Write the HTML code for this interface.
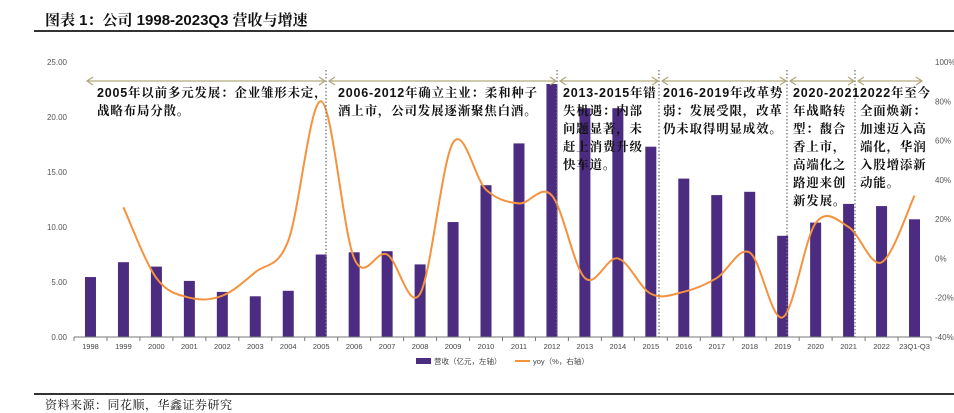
<!DOCTYPE html>
<html><head><meta charset="utf-8">
<style>
body{margin:0;background:#fff;width:954px;height:411px;overflow:hidden;font-family:"Liberation Sans","Noto Sans CJK SC",sans-serif;}
#wrap{position:relative;width:954px;height:411px;}
.title{position:absolute;left:45px;top:9px;font-size:15px;font-weight:bold;color:#111;font-family:"Liberation Sans","Noto Serif CJK SC",serif;}
.rule{position:absolute;left:34px;right:0;height:1.5px;background:#333;}
.src{position:absolute;left:45px;top:396px;font-size:12px;color:#111;letter-spacing:0.5px;font-family:"Liberation Serif","Noto Serif CJK SC",serif;}
</style></head><body>
<div id="wrap">
<div class="title">图表 1：公司 1998-2023Q3 营收与增速</div>
<div class="rule" style="top:30px"></div>
<svg id="chart" width="954" height="411" style="position:absolute;left:0;top:0"></svg>
<div class="rule" style="top:393px"></div>
<div class="src">资料来源：同花顺，华鑫证券研究</div>
</div>
<script>
const categories=["1998","1999","2000","2001","2002","2003","2004","2005","2006","2007","2008","2009","2010","2011","2012","2013","2014","2015","2016","2017","2018","2019","2020","2021","2022","23Q1-Q3"];
const revenue=[5.45,6.8,6.4,5.1,4.1,3.7,4.2,7.5,7.7,7.8,6.6,10.45,13.8,17.6,23.0,20.8,20.8,17.3,14.4,12.9,13.2,9.2,10.4,12.1,11.9,10.7];
const yoy=[null,26,-10,-20,-19,-7,9,80,0,2,-18,59,35,28,32,-10,0,-18,-17,-10,3,-30,18,16,-2,32];
const leftTicks=["0.00","5.00","10.00","15.00","20.00","25.00"];
const rightTicks=["-40%","-20%","0%","20%","40%","60%","80%","100%"];
const NS="http://www.w3.org/2000/svg";
const svg=document.getElementById('chart');
const X0=74,X1=931,Y0=337,Y1=62;
const step=(X1-X0)/categories.length;
const xc=i=>X0+step*(i+0.5);
const yL=v=>Y0-(v/25)*(Y0-Y1);
const yR=v=>Y0-((v+40)/140)*(Y0-Y1);
function el(t,a){const e=document.createElementNS(NS,t);for(const k in a)e.setAttribute(k,a[k]);svg.appendChild(e);return e;}
leftTicks.forEach((t,i)=>{const e=el('text',{x:67,y:yL(parseFloat(t))+3,'text-anchor':'end','font-size':'8','fill':'#555'});e.textContent=t;

});
rightTicks.forEach(t=>{const e=el('text',{x:935,y:yR(parseFloat(t))+3,'font-size':'8','fill':'#555'});e.textContent=t;

});
revenue.forEach((v,i)=>{const r=el('rect',{x:xc(i)-5.5,y:yL(v),width:11,height:Y0-yL(v),fill:'#4b2c80'});

});
const ax=el('line',{x1:X0,y1:Y0,x2:X1,y2:Y0,stroke:'#777','stroke-width':1});


for(let i=0;i<=categories.length;i++){el('line',{x1:X0+step*i,y1:Y0,x2:X0+step*i,y2:Y0+4,stroke:'#777'});}
categories.forEach((c,i)=>{const e=el('text',{x:xc(i),y:349,'text-anchor':'middle','font-size':'7.5','fill':'#444'});e.textContent=c;

});
const pts=[];yoy.forEach((v,i)=>{if(v!==null)pts.push([xc(i),yR(v)]);});
let d='M'+pts[0][0]+','+pts[0][1];
for(let i=0;i<pts.length-1;i++){const p0=pts[Math.max(0,i-1)],p1=pts[i],p2=pts[i+1],p3=pts[Math.min(pts.length-1,i+2)];
const c1=[p1[0]+(p2[0]-p0[0])/6,p1[1]+(p2[1]-p0[1])/6],c2=[p2[0]-(p3[0]-p1[0])/6,p2[1]-(p3[1]-p1[1])/6];
d+=' C'+c1+' '+c2+' '+p2;}
const ln=el('path',{d:d,fill:'none',stroke:'#f5923e','stroke-width':2});


const seps=[326,557,659,787,855];
seps.forEach(x=>{const s=el('line',{x1:x,y1:70,x2:x,y2:Y0,stroke:'#777','stroke-width':1.3,'stroke-dasharray':'1.5,2'});

});
const spans=[[87,325],[329,556],[560,658],[662,786],[790,854],[858,922]];
spans.forEach(s=>{const g=el('path',{d:`M${s[0]},81 L${s[1]},81 M${s[0]+6},77 L${s[0]},81 L${s[0]+6},85 M${s[1]-6},77 L${s[1]},81 L${s[1]-6},85`,stroke:'#b2aa7c','stroke-width':1.3,fill:'none'});

});
const notes=[[97,["2005年以前多元发展：企业雏形未定，","战略布局分散。"]],[338,["2006-2012年确立主业：柔和种子","酒上市，公司发展逐渐聚焦白酒。"]],[563,["2013-2015年错","失机遇：内部","问题显著，未","赶上消费升级","快车道。"]],[663,["2016-2019年改革势","弱：发展受限，改革","仍未取得明显成效。"]],[793,["2020-2021","年战略转","型：馥合","香上市，","高端化之","路迎来创","新发展。"]],[860,["2022年至今","全面焕新：","加速迈入高","端化，华润","入股增添新","动能。"]]];
notes.forEach(n=>{n[1].forEach((t,j)=>{const e=el('text',{x:n[0],y:97+j*18,'font-size':'12.5','font-weight':'bold','fill':'#111','letter-spacing':'0.8','font-family':'"Liberation Sans","Noto Serif CJK SC",serif'});e.textContent=t;

});});
const lb=el('rect',{x:416,y:358,width:15,height:6,fill:'#4b2c80'});


const lt=el('text',{x:434,y:364,'font-size':'7.5','fill':'#444'});lt.textContent='营收（亿元，左轴）';


const ll=el('line',{x1:515,y1:361,x2:530,y2:361,stroke:'#f5923e','stroke-width':2});


const lt2=el('text',{x:533,y:364,'font-size':'7.5','fill':'#444'});lt2.textContent='yoy（%，右轴）';


</script>
</body></html>
